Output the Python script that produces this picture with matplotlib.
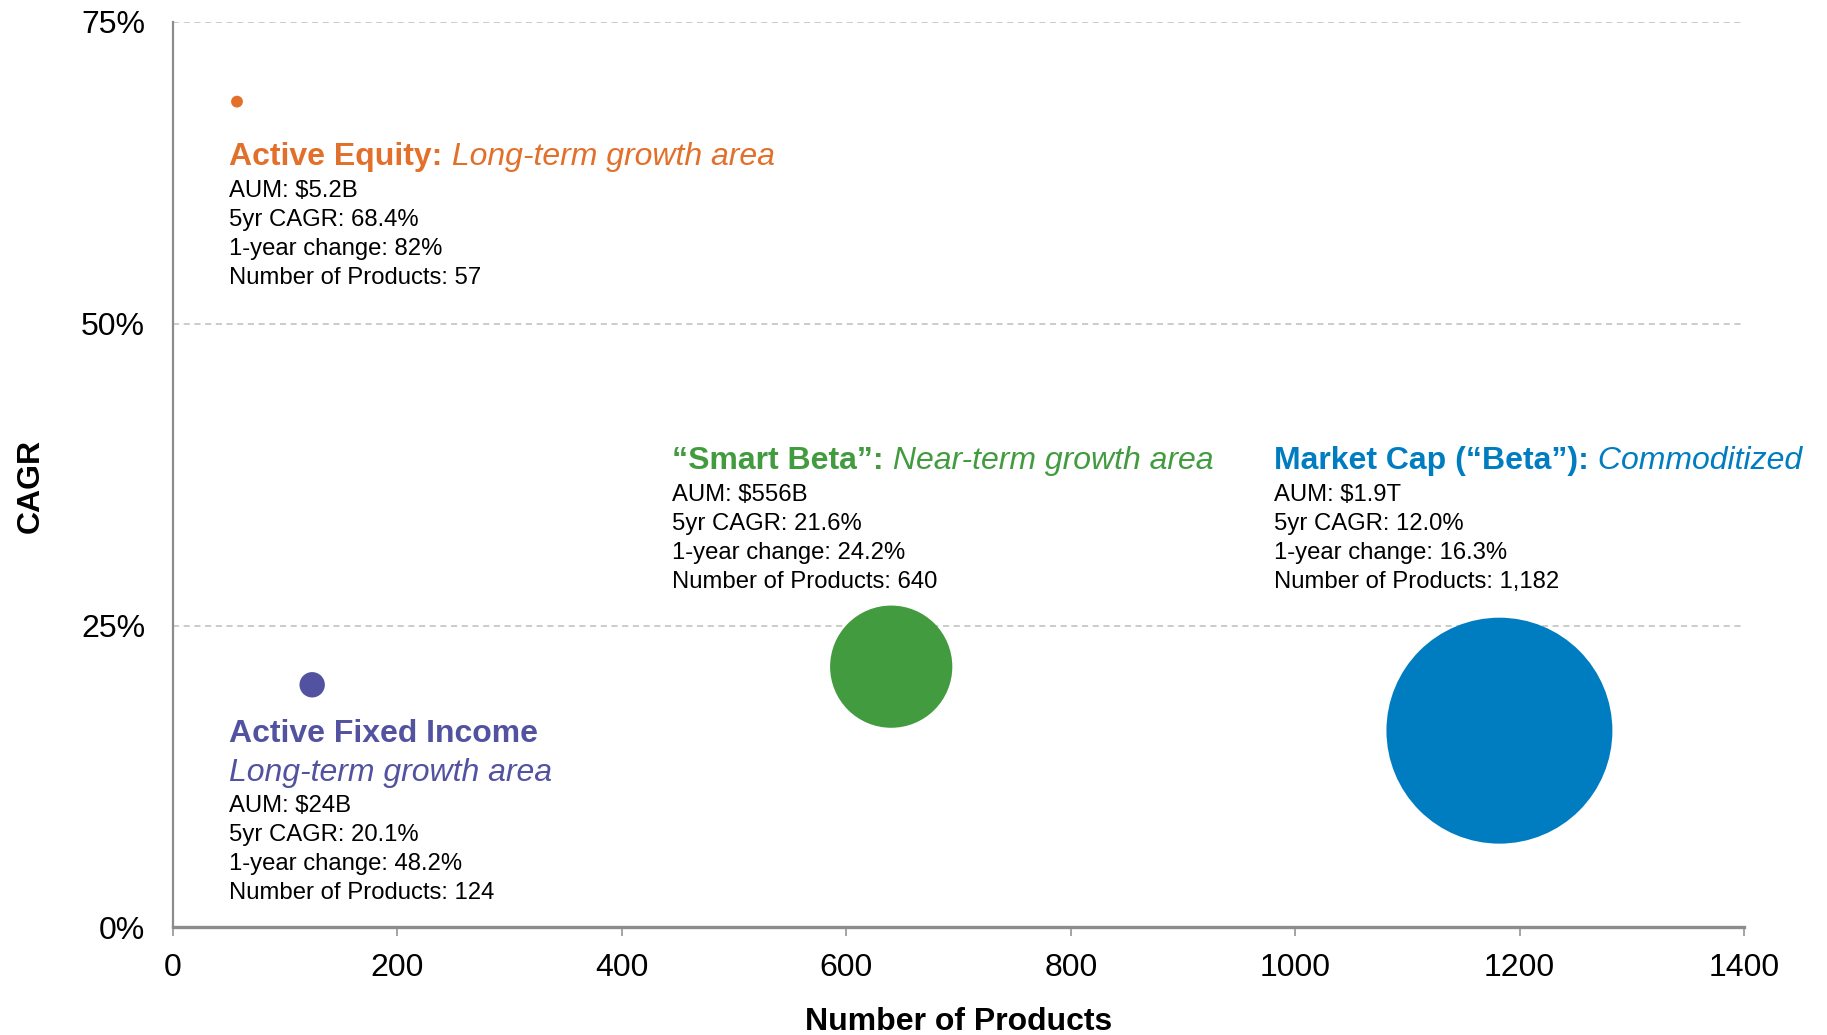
import matplotlib
matplotlib.use("Agg")
import matplotlib.pyplot as plt
from matplotlib.ticker import FuncFormatter

plt.rcParams['font.family'] = ['Liberation Sans', 'DejaVu Sans']

# ---- data ----
categories = ["Active Equity", "Active Fixed Income", "\u201cSmart Beta\u201d", "Market Cap (\u201cBeta\u201d)"]
num_products = [57, 124, 640, 1182]
cagr_plot = [68.4, 20.1, 21.6, 16.3]
aum_billions = [5.2, 24, 556, 1900]
colors = ["#E2702B", "#5252A0", "#429C3F", "#007DC1"]

title_bold = ["Active Equity:", "Active Fixed Income", "\u201cSmart Beta\u201d:", "Market Cap (\u201cBeta\u201d):"]
title_italic = ["Long-term growth area", "Long-term growth area", "Near-term growth area", "Commoditized"]
aum_labels = ["$5.2B", "$24B", "$556B", "$1.9T"]
cagr_labels = ["68.4%", "20.1%", "21.6%", "12.0%"]
change_labels = ["82%", "48.2%", "24.2%", "16.3%"]
products_labels = ["57", "124", "640", "1,182"]

x_ticks = [0, 200, 400, 600, 800, 1000, 1200, 1400]
y_ticks = [0, 25, 50, 75]

# ---- figure ----
fig = plt.figure(figsize=(18.27, 10.35), dpi=100)
ax = fig.add_axes([0.0947, 0.1039, 0.8599, 0.8749])

size_scale = 13.93  # points^2 per $B
ax.scatter(num_products, cagr_plot, s=[a * size_scale for a in aum_billions],
           c=colors, linewidths=0, zorder=3)

ax.set_xlim(0, 1400)
ax.set_ylim(0, 75)
ax.set_xticks(x_ticks)
ax.set_yticks(y_ticks)
ax.yaxis.set_major_formatter(FuncFormatter(lambda v, p: f"{v:.0f}%"))

for yv in y_ticks[1:]:
    ax.axhline(yv, color="#BDBDBD", lw=1.1, ls=(0, (4, 3)), zorder=1)

for s in ["top", "right"]:
    ax.spines[s].set_visible(False)
ax.spines["left"].set_color("#8C8C8C")
ax.spines["left"].set_linewidth(1.6)
ax.spines["bottom"].set_color("#8C8C8C")
ax.spines["bottom"].set_linewidth(2.4)

ax.tick_params(axis="y", length=0, pad=20, labelsize=23)
ax.tick_params(axis="x", length=6.5, width=1.1, color="#8C8C8C", pad=12, labelsize=23)

ax.set_xlabel("Number of Products", fontsize=23, fontweight="bold")
ax.set_ylabel("CAGR", fontsize=23, fontweight="bold")
ax.xaxis.set_label_coords(0.5, -0.0875)
ax.yaxis.set_label_coords(-0.081, 0.488)

# ---- annotation blocks ----
# anchor (data coords, left x / baseline y of title)
anchor_x = [50.2, 50.2, 444.8, 981.2]
anchor_y = [63.16, 15.37, 37.98, 37.98]
title_fs = 23
body_fs = 17.2
line_step = 20.9  # points

for i in range(len(categories)):
    col = colors[i]
    t1 = ax.text(anchor_x[i], anchor_y[i], title_bold[i], color=col, fontsize=title_fs,
                 fontweight="bold", ha="left", va="baseline")
    if i == 1:
        # subtitle on its own line
        ax.annotate(title_italic[i], xy=(anchor_x[i], anchor_y[i]), xytext=(0, -28),
                    textcoords="offset points", color=col, fontsize=title_fs,
                    fontstyle="italic", ha="left", va="baseline")
        body_start = -28 - 22.3
    else:
        ax.annotate(" " + title_italic[i], xy=(1, 0), xycoords=t1, color=col,
                    fontsize=title_fs, fontstyle="italic", ha="left", va="bottom")
        body_start = -23
    lines = [f"AUM: {aum_labels[i]}",
             f"5yr CAGR: {cagr_labels[i]}",
             f"1-year change: {change_labels[i]}",
             f"Number of Products: {products_labels[i]}"]
    for k, ln in enumerate(lines):
        ax.annotate(ln, xy=(anchor_x[i], anchor_y[i]),
                    xytext=(0, body_start - k * line_step), textcoords="offset points",
                    color="black", fontsize=body_fs, ha="left", va="baseline")

fig.savefig("out.png", dpi=100)
